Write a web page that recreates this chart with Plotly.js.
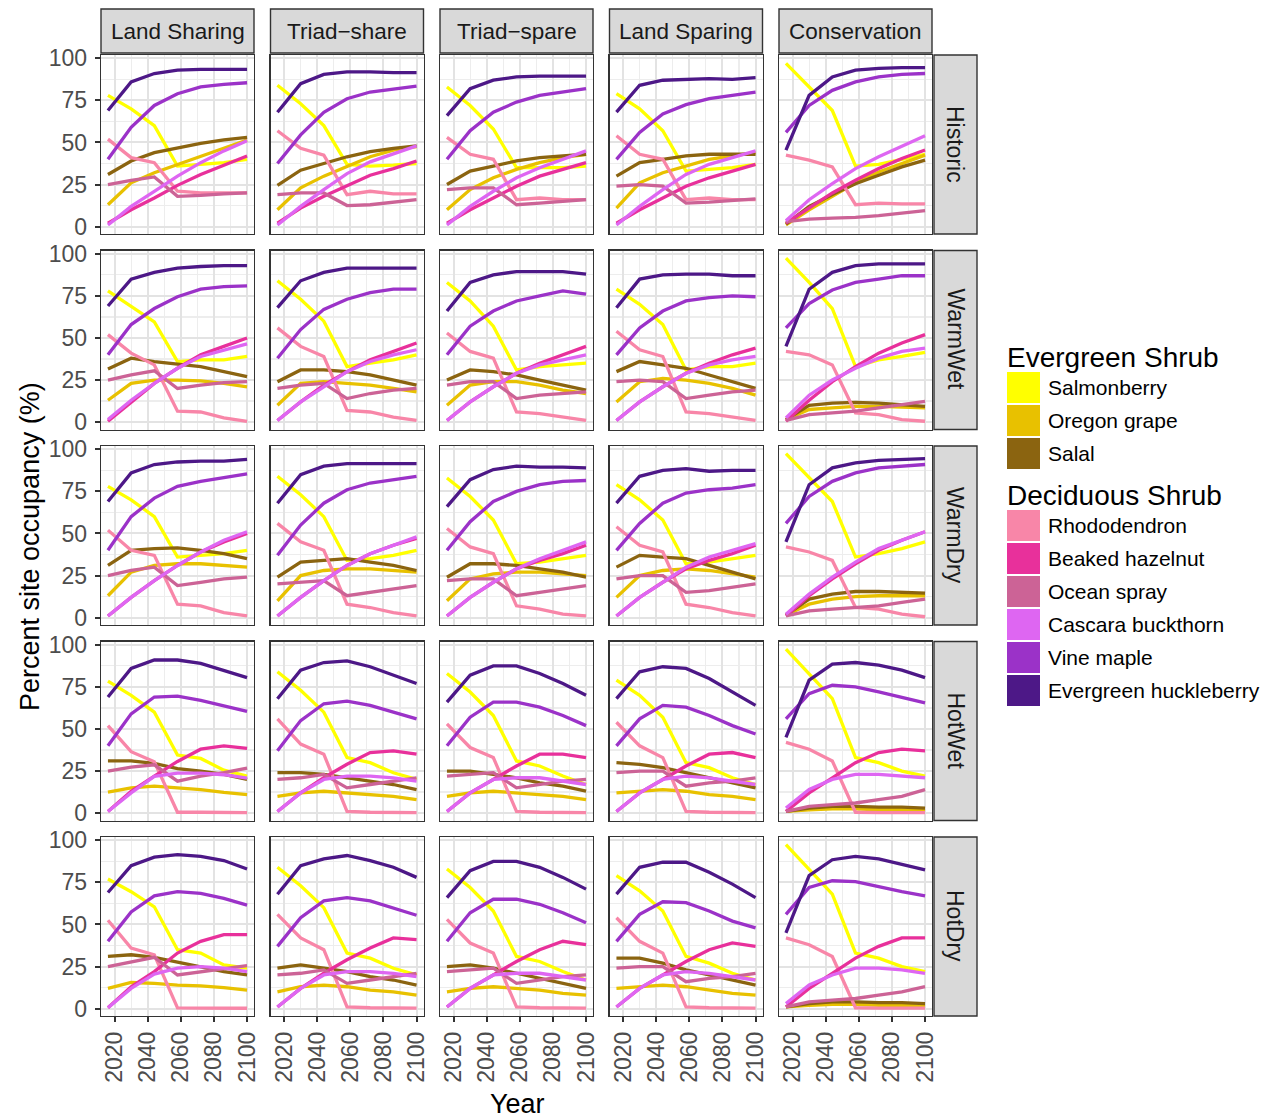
<!DOCTYPE html>
<html><head><meta charset="utf-8">
<script src="https://cdn.plot.ly/plotly-3.0.1.min.js"></script>
<style>body{margin:0;background:#fff}#chart{width:1270px;height:1120px}</style>
</head><body><div id="chart"></div>
<script>
const years = [2016, 2030, 2044, 2058, 2072, 2086, 2100];
const scenarios = ['Land Sharing', 'Triad\u2212share', 'Triad\u2212spare', 'Land Sparing', 'Conservation'];
const climates = ['Historic', 'WarmWet', 'WarmDry', 'HotWet', 'HotDry'];
const xTicks = [2020, 2040, 2060, 2080, 2100];
const yTicks = [0, 25, 50, 75, 100];

// each species: [climate][scenario] -> values at years
const salmonberry = [
  [[78,70,60,36,37,38,40],[84,73,60,37,36,36.5,37.5],[83,72,58,35,35,35,36],[79,70,57,33,34,35,37],[97,83,69,36,37,40,43]],
  [[78,68.5,59.5,36,37,37,39],[84,73,60,33,35,37,40],[83,72,57,31,33,34,35],[79,70,58,31,33,33,35],[97.5,83,67.5,33,37,39,41.5]],
  [[78,70,60,36,37,38,40],[84,73,60,34,35,37,40],[83,72,58,32,33,35,37],[79,70,58,32,33,35,37],[97.5,83,69,36,38,41,45]],
  [[78.5,70,60,34.5,32.5,25.5,22],[84,73,60,33,30,24,20],[83,72,58,31,28,22,17],[79,70,57,30,27,21,17],[97.5,83,68,33,30,25,22]],
  [[77,69.5,60.5,35,33,26,24],[84,73,60,33,30,24,20],[83,72,58,31,28,22,17],[79,70,58,31,27,21,17],[97.5,83,68,33,30,25,22]]
];
const oregonGrape = [
  [[13,26,32,37,42,47,51.5],[10,23,30,35.5,41.5,45.5,47.5],[10,22,29,34,38,41,43],[11,26,32,36,40,42,44],[1,10,18,26,32.5,37.5,42.5]],
  [[13,23,25,25,24.5,23,21],[10,23,24,23,22,20,18],[10,22,24,24,22,19,17],[12,24,26,25,23,20,16],[1.5,7.5,8.4,9.4,9.4,8.8,8.4]],
  [[13,27,31,32,32,31,30],[10,25,28,29,29,28,27],[10,23,26,27,27,26,25],[12,25,28,29,28,26,24],[1.5,8,11,12.5,13,13,13]],
  [[12.5,15,16,15,14,12.3,11],[10,12,13,12,11,10,8],[10,12,13,12,11,10,8],[12,13,14,13,11,10,8],[1,2,2.5,2.5,2,2,1.5]],
  [[12,15.5,15,14,13.5,12.5,11],[10,13,14,13,11,10,8],[10,12,13,12,11,9,8],[12,13,14,13,11,9,8],[1,2,2.5,2.5,2,2,1.5]]
];
const salal = [
  [[31,39,44,47,49.5,51.5,53],[24.5,33.5,37.5,41.5,44.5,46.5,48],[25,33,36,39,41,42,43],[30,38,40,42,43,43,43],[1.5,12,19,25.5,30.5,35.5,39.5]],
  [[31.5,38,36,34.5,33,30,27],[24,31,31,30,28,25,22],[25,31,30,28,25,22,19],[30,36,34,32,28,24,20],[1.5,10,11.3,11.7,11.3,10.4,9.4]],
  [[31,40,41,41.5,40,38,35],[24,33,34,35,33,31,28],[24,32,32,31,29,27,24],[30,37,36,35,31,27,23],[1.5,11,14,15.5,15.5,15,14.5]],
  [[31,31,29.5,26.5,25,23,20],[24,24,23,21,19,17,14],[25,25,23,21,18,16,13],[30,29,27,24,21,18,15],[1,3,4,4,3.5,3.5,3]],
  [[31,32,30.5,27.5,25,22,20],[24,26,24,22,19,17,14],[25,26,24,21,18,15,12],[30,30,27,23,20,17,14],[1,3,4,4,3.5,3.5,3]]
];
const rhododendron = [
  [[52,41,38,21,20,20,20],[57,46.5,42.5,19,21,19.5,19.5],[53,43,40,16,17,16,16],[54,43,40,16,17,16,16],[42.5,39.5,35.5,13,14,13.5,13.5]],
  [[52,41,34,6.5,6,2.5,0.5],[56,45,39,7,6,3,1],[53,42,38,6,5,3,1],[54,43,39,6,5,3,1],[42,40,34,5.5,4.5,1.5,0.5]],
  [[52,40,37,8,7,3,1],[56,45,40,8,6,3,1],[53,42,38,7,5,2,1],[54,43,39,8,6,3,1],[42,39,34,6,5,2,0.5]],
  [[52,36.5,30.5,0.5,0.5,0.5,0.3],[56,41,35,1,0.5,0.5,0.3],[53,39,33,1,0.5,0.5,0.3],[54,40,33,1,0.5,0.5,0.3],[42,38,31,0.5,0.3,0.3,0.3]],
  [[52.5,36,32,0.4,0.3,0.3,0.2],[56,42,35,1,0.5,0.5,0.3],[53,39,33,1,0.5,0.5,0.3],[54,40,33,1,0.5,0.5,0.3],[42,38,31,0.5,0.3,0.3,0.3]]
];
const beakedHazelnut = [
  [[2,10,17,24.5,31,36.5,42],[2,11,18,24.5,30.5,34.5,39],[2,10,17,24,30,34,38],[2,10,17,24,29,33,37],[2,11,20,27.5,34.5,40.5,45.5]],
  [[0.5,12,23,32,40,45,50],[1,12,22,30,37,42,47],[1,12,21,29,35,40,45],[1,12,21,29,35,40,44],[0.5,13,24,33,41,47,52]],
  [[1,12,22,31,39,45,50],[1,12,22,31,38,43,47],[1,12,21,29,34,38,43],[1,12,21,29,34,38,43],[1,13,23,32,40,46,51]],
  [[1,13,22,30.7,38,40,38.5],[1,12,21,29,36,37,35],[1,12,20,28,35,35,33],[1,12,20,28,35,36,33],[1,12,21,30,36,38,37]],
  [[0.5,13,22,33,40,44,44],[1,12,21,29,36,42,41],[1,12,20,28,35,40,38],[1,12,20,28,35,39,37],[1,12,21,30,37,42,42]]
];
const oceanSpray = [
  [[25,27.5,29.5,18,18.5,19.5,20],[19,20,20,12.5,13,14.5,16],[22,23,23,13,14,15,16],[24,25,24,14,14.5,15.5,16.5],[3,4.5,5,5.5,6.5,8,9.5]],
  [[25,28,30.5,20,22,23.5,24],[20,22,23,14,17,19,20],[22,24,24,14,16,17,18],[24,25,24,14,16,18,19],[1,4.5,5.5,6.5,8.5,10.5,12.3]],
  [[25,28,30,19,21,23,24],[20,21,22,13,15,17,19],[22,23,23,13,15,17,19],[23,25,25,15,16,18,20],[1,4,5,6,7,9,11]],
  [[25,27.3,28.7,19,22,24,26.7],[20,21,23,15,17,19,21],[22,23,24,15,17,19,20],[24,25,25,16,18,19,21],[1,4,5,6,8,10,14]],
  [[25,27.5,30.5,20,22,24,25.6],[20,21,23,15,17,19,21],[22,23,24,15,17,19,20],[24,25,25,16,18,19,21],[1,4,5,6,8,10,13]]
];
const cascaraBuckthorn = [
  [[1,12,21,30,38,45,51],[1,12,22,31.5,38.5,43.5,48],[1,12,21,29,35,40,45],[1,12,22,31,37,41,45],[3.5,16,25.5,34.5,41.5,47.5,54]],
  [[1.5,13,23,32,39,43,46.5],[1,12,21,30,36,40,43],[1,12,21,29,34,37,40],[1,12,21,29,34,37,39],[2.5,16,25,32,38,42,44]],
  [[1,12,22,31,39,46,51],[1,12,22,31,38,43,48],[1,12,21,29,35,40,45],[1,12,21,30,36,40,44],[2,14,24,33,41,46,51]],
  [[1,12,21.8,23.8,23.8,22.8,20.8],[1,12,20,22,22,21,19],[1,12,20,21,21,19,17],[1,12,20,22,21,19,17],[3,14,20,23,23,22,21]],
  [[0.5,12,20.5,24,25,24,22],[1,12,20,22,22,21,19],[1,12,20,21,21,19,17],[1,12,20,22,21,19,17],[3,14,20,24,24,23,21]]
];
const vineMaple = [
  [[40,59,72,79,83,84.5,85.5],[37.5,54.5,68,76,80,82,83.5],[40,57,68,74,78,80,82],[40,56,67,72.5,76,78,80],[56,72,81,86,89,90.5,91]],
  [[40,58,67.5,74.5,79,80.5,81],[38,55,67,73,77,79,79],[40,57,66,72,75,78,76],[40,56,66,72,74,75,74.5],[56,70.5,78.5,83,85,87,87]],
  [[40,60,71,78,81,83,85.5],[37,55,68,76,80,82,84],[40,57,69,75,79,81,81.5],[40,56,68,74,76,77,79],[56,72,81,86,89,90,91]],
  [[40,59,69,69.5,67,64,60.5],[37,55,65,66.5,64,60,56],[40,57,66,66,63,58,52],[40,56,64,63,58,52,47],[56,71,76,75,72,68.5,65.5]],
  [[40,57.5,67,69.5,68.5,65.5,61.5],[37,54,64,66,64,60,55.5],[40,57,65,65,62,57,51],[40,56,63.5,63,58,52,48],[56,72,76,75.5,72.5,69.5,67]]
];
const evergreenHuckleberry = [
  [[69,86,91,93,93.5,93.5,93.5],[68,85,90.5,92,92,91.5,91.5],[66,82,87,89,89.5,89.5,89.5],[68,84,87,87.5,88,87.5,88.5],[45.5,78,89,93,94,94.5,94.5]],
  [[69,85,89,91.5,92.5,93,93],[68,84,89,91.5,91.5,91.5,91.5],[66,83,87.5,89.5,89.5,89.5,88],[68,85,87.5,88,88,87,87],[45,79,89,93,94,94,94]],
  [[69,86,91,92.5,93,93,94],[68,85,90,91.5,91.5,91.5,91.5],[66,82,88,90,89.5,89.5,89],[68,84,87.5,88.5,87,87.5,87.5],[45,79,89,92,93.5,94,94.5]],
  [[69,86,91,91,89,85,80.5],[68,85,89.5,90.5,87,82,77],[66,82,87.5,87.5,83,77,70],[68,84,87,86,80,72,64],[45,79,88.5,89.5,88,85,80.5]],
  [[69,85,90,91.5,90.5,88,83],[68,85,89,91,88,84,78],[66,82,87.5,87.5,84,78,71],[68,84,87,87,81,74,66],[45,79,88.5,90.5,89,86,82.5]]
];

const speciesNames = ['Salmonberry','Oregon grape','Salal','Rhododendron','Beaked hazelnut','Ocean spray','Cascara buckthorn','Vine maple','Evergreen huckleberry'];
const speciesColors = ['#FFFF00','#E8C100','#8B6410','#F886A8','#E8309B','#CC6396','#DE66F2','#9B32C8','#4D1887'];
const speciesData = [salmonberry, oregonGrape, salal, rhododendron, beakedHazelnut, oceanSpray, cascaraBuckthorn, vineMaple, evergreenHuckleberry];
const groupTitles = ['Evergreen Shrub', 'Deciduous Shrub'];
const groupMembers = [[0,1,2],[3,4,5,6,7,8]];

const W = 1270, H = 1120;
const FONT = 'Liberation Sans, Arial, Helvetica, sans-serif';
const px = x => x / W;
const py = y => 1 - y / H;

const panelLeft0 = 101, colPitch = 169.5, panelW = 153;
const panelTop0 = 55, rowPitch = 195.5, panelH = 179;

const traces = [];
const layout = {
  width: W, height: H,
  margin: {l: 0, r: 0, t: 0, b: 0},
  paper_bgcolor: '#fff', plot_bgcolor: '#fff',
  showlegend: false,
  font: {family: FONT},
  shapes: [], annotations: []
};

for (let r = 0; r < climates.length; r++) {
  for (let c = 0; c < scenarios.length; c++) {
    const n = r * scenarios.length + c + 1;
    const xa = n === 1 ? 'xaxis' : 'xaxis' + n;
    const ya = n === 1 ? 'yaxis' : 'yaxis' + n;
    const xr = n === 1 ? 'x' : 'x' + n;
    const yr = n === 1 ? 'y' : 'y' + n;
    const L = panelLeft0 + c * colPitch, R = L + panelW;
    const T = panelTop0 + r * rowPitch, B = T + panelH;
    layout[xa] = {
      domain: [px(L), px(R)], anchor: yr,
      range: [2011.8, 2104.2], tickvals: xTicks, ticktext: xTicks.map(String),
      showgrid: true, gridcolor: '#E3E3E3', gridwidth: 2,
      minor: {tick0: 2010, dtick: 10, showgrid: true, gridcolor: '#EDEDED', gridwidth: 1.2},
      showline: true, mirror: true, linecolor: '#333333', linewidth: 1.4,
      zeroline: false,
      ticks: r === climates.length - 1 ? 'outside' : '', ticklen: 5, tickwidth: 2, tickcolor: '#333333',
      showticklabels: r === climates.length - 1, tickangle: -90,
      tickfont: {size: 23, color: '#4D4D4D', family: FONT}
    };
    layout[ya] = {
      domain: [py(B), py(T)], anchor: xr,
      range: [-4.4, 102], tickvals: yTicks, ticktext: yTicks.map(String),
      showgrid: true, gridcolor: '#E3E3E3', gridwidth: 2,
      minor: {tick0: 0, dtick: 12.5, showgrid: true, gridcolor: '#EDEDED', gridwidth: 1.2},
      showline: true, mirror: true, linecolor: '#333333', linewidth: 1.4,
      zeroline: false,
      ticks: c === 0 ? 'outside' : '', ticklen: 5, tickwidth: 2, tickcolor: '#333333',
      showticklabels: c === 0, ticklabelstandoff: 3,
      tickfont: {size: 23, color: '#4D4D4D', family: FONT}
    };
    for (let s = 0; s < speciesNames.length; s++) {
      traces.push({
        type: 'scatter', mode: 'lines', x: years, y: speciesData[s][r][c],
        xaxis: xr, yaxis: yr, name: speciesNames[s], showlegend: false,
        line: {color: speciesColors[s], width: 3.3}, hoverinfo: 'skip'
      });
    }
  }
}

// top strips
for (let c = 0; c < scenarios.length; c++) {
  const L = panelLeft0 + c * colPitch, R = L + panelW;
  layout.shapes.push({type: 'rect', xref: 'paper', yref: 'paper', x0: px(L), x1: px(R), y0: py(53), y1: py(9),
    fillcolor: '#D9D9D9', line: {color: '#333333', width: 1.4}, layer: 'above'});
  layout.annotations.push({xref: 'paper', yref: 'paper', x: px((L + R) / 2), y: py(31), text: scenarios[c],
    showarrow: false, xanchor: 'center', yanchor: 'middle', font: {size: 22.5, color: '#1A1A1A', family: FONT}});
}
// right strips
for (let r = 0; r < climates.length; r++) {
  const T = panelTop0 + r * rowPitch, B = T + panelH;
  layout.shapes.push({type: 'rect', xref: 'paper', yref: 'paper', x0: px(934), x1: px(977), y0: py(B), y1: py(T),
    fillcolor: '#D9D9D9', line: {color: '#333333', width: 1.4}, layer: 'above'});
  layout.annotations.push({xref: 'paper', yref: 'paper', x: px(955.5), y: py((T + B) / 2), text: climates[r],
    showarrow: false, textangle: 90, xanchor: 'center', yanchor: 'middle', font: {size: 23, color: '#1A1A1A', family: FONT}});
}
// axis titles
layout.annotations.push({xref: 'paper', yref: 'paper', x: px(517), y: py(1104), text: 'Year', showarrow: false,
  xanchor: 'center', yanchor: 'middle', font: {size: 27, color: '#000', family: FONT}});
layout.annotations.push({xref: 'paper', yref: 'paper', x: px(30), y: py(547), text: 'Percent site occupancy (%)', showarrow: false,
  textangle: -90, xanchor: 'center', yanchor: 'middle', font: {size: 27, color: '#000', family: FONT}});

// legend
const groupTitleY = [357, 495];
const groupItemTop = [371, 509];
for (let g = 0; g < groupTitles.length; g++) {
  layout.annotations.push({xref: 'paper', yref: 'paper', x: px(1005), y: py(groupTitleY[g]), text: groupTitles[g],
    showarrow: false, xanchor: 'left', yanchor: 'middle', font: {size: 28, color: '#000', family: FONT}});
  groupMembers[g].forEach((s, i) => {
    const top = groupItemTop[g] + 33 * i;
    layout.shapes.push({type: 'rect', xref: 'paper', yref: 'paper', x0: px(1007), x1: px(1040), y0: py(top + 32), y1: py(top + 1),
      fillcolor: speciesColors[s], line: {width: 0}});
    layout.annotations.push({xref: 'paper', yref: 'paper', x: px(1046), y: py(top + 16.5), text: speciesNames[s],
      showarrow: false, xanchor: 'left', yanchor: 'middle', font: {size: 21, color: '#000', family: FONT}});
  });
}

Plotly.newPlot('chart', traces, layout, {staticPlot: true});
</script>
</body></html>
